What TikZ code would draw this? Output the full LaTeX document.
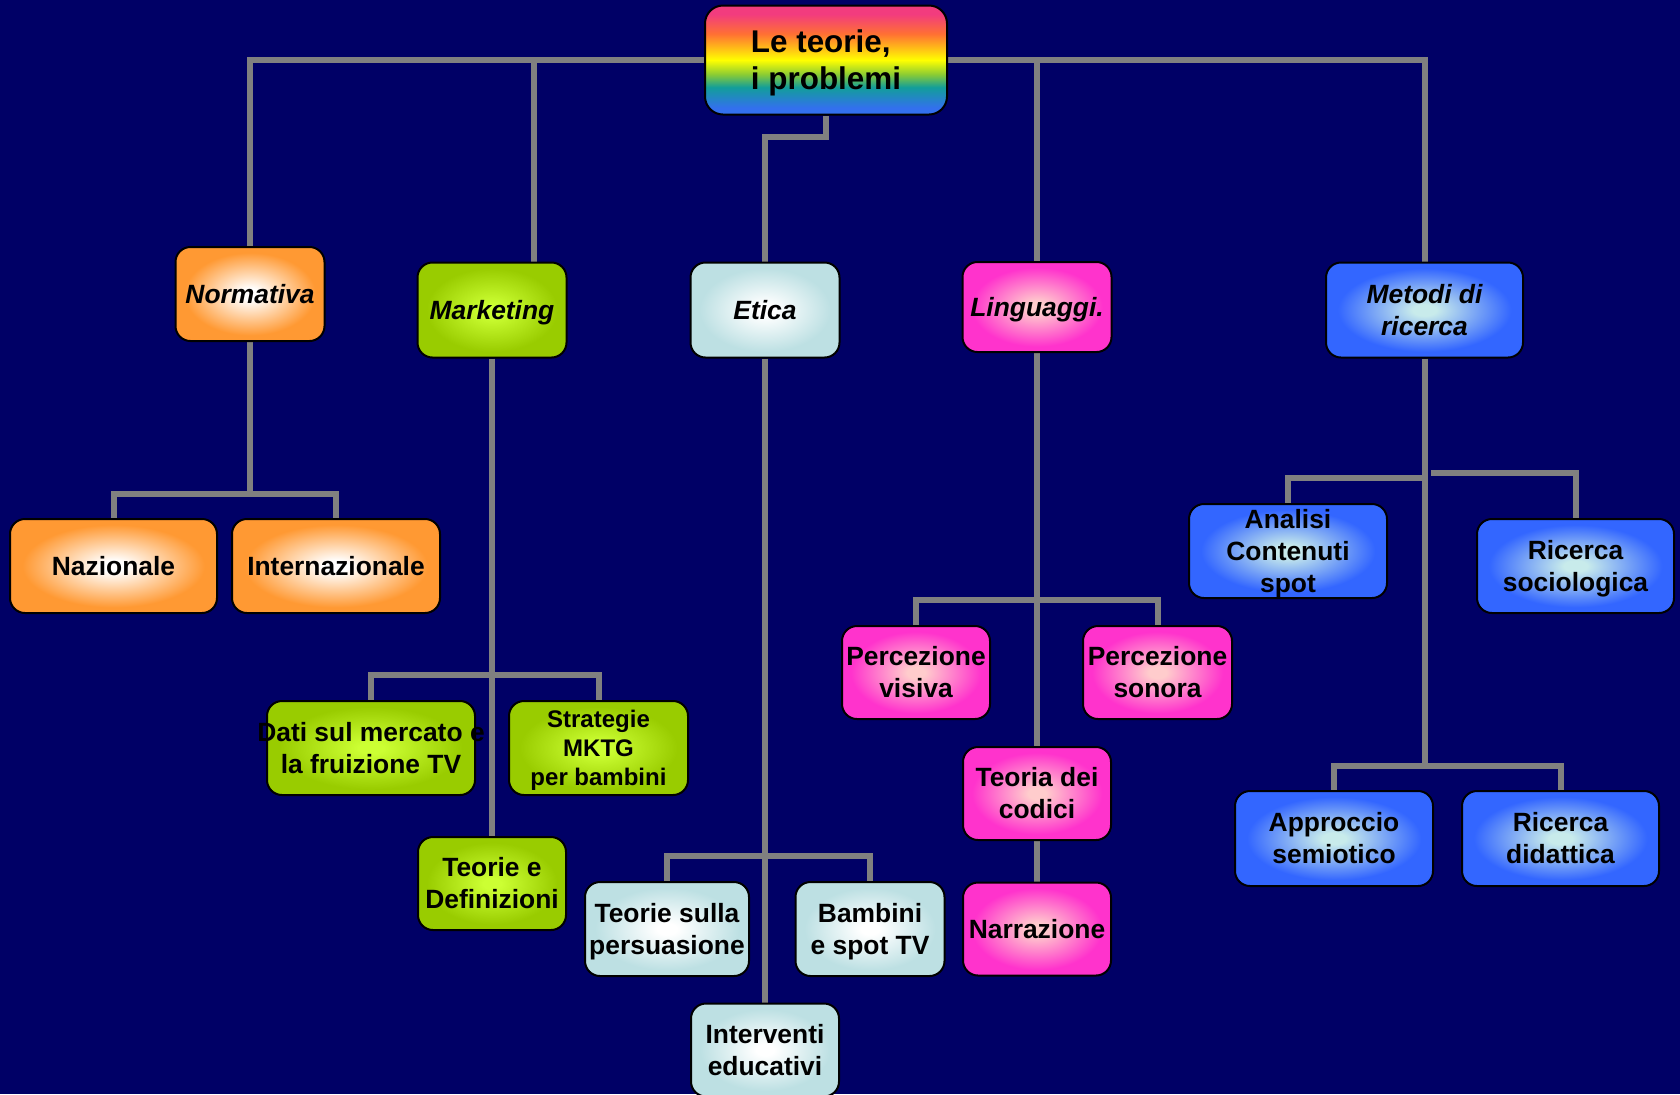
\documentclass[tikz,border=0pt]{standalone}
\usepackage{fontspec}
\setmainfont{Liberation Sans}
\usetikzlibrary{backgrounds}
\definecolor{tvnavy}{HTML}{000066}
\definecolor{tvline}{HTML}{808080}
\definecolor{tvorange}{HTML}{FF9933}
\definecolor{tvgreen}{HTML}{99CC00}
\definecolor{tvlime}{HTML}{CCFF33}
\definecolor{tvice}{HTML}{BDE0E3}
\definecolor{tvpink}{HTML}{FF33CC}
\definecolor{tvblush}{HTML}{FFCCCC}
\definecolor{tvblue}{HTML}{3366FF}
\definecolor{tvmist}{HTML}{C8EBEB}
\definecolor{rbpink}{HTML}{F23C7E}
\definecolor{rborange}{HTML}{FF7033}
\definecolor{rbyellow}{HTML}{FFFF00}
\definecolor{rbgreen}{HTML}{8CCC33}
\definecolor{rbteal}{HTML}{129E9A}
\definecolor{rbblue}{HTML}{3370EE}
\colorlet{glowin}{white}
\colorlet{glowout}{tvorange}
\pgfdeclareradialshading[glowin,glowout]{glow}{\pgfpoint{0bp}{0bp}}{color(0bp)=(glowin); color(3bp)=(glowin); color(22bp)=(glowout); color(50bp)=(glowout)}
\pgfdeclareverticalshading{rainbow}{100bp}{color(0bp)=(rbblue); color(28bp)=(rbblue); color(37.5bp)=(rbteal); color(43.5bp)=(rbgreen); color(50bp)=(rbyellow); color(62bp)=(rborange); color(71bp)=(rbpink); color(100bp)=(rbpink)}
\newcommand{\flatline}[1]{\raisebox{0pt}[\height][0pt]{#1}}
\tikzset{
  box/.style={draw=black,line width=1pt,rounded corners=7.5pt,shade,shading=glow,minimum width=74.5pt,minimum height=47pt,inner sep=1pt,align=center,text=black,font=\fontsize{13.2}{16}\selectfont\bfseries},
  topic/.style={box,font=\fontsize{13.2}{16}\selectfont\bfseries\itshape},
  rootbox/.style={draw=black,line width=1pt,rounded corners=9pt,shade,shading=rainbow,minimum width=121pt,minimum height=54.5pt,inner sep=1pt,align=left,text=black,font=\fontsize{15.7}{18.5}\selectfont\bfseries},
  normcol/.style={/utils/exec={\colorlet{glowin}{white}\colorlet{glowout}{tvorange}}},
  mktcol/.style={/utils/exec={\colorlet{glowin}{tvlime}\colorlet{glowout}{tvgreen}}},
  ethcol/.style={/utils/exec={\colorlet{glowin}{white}\colorlet{glowout}{tvice}}},
  langcol/.style={/utils/exec={\colorlet{glowin}{tvblush}\colorlet{glowout}{tvpink}}},
  methcol/.style={/utils/exec={\colorlet{glowin}{tvmist}\colorlet{glowout}{tvblue}}},
  link/.style={draw=tvline,line width=3pt},
}
\begin{document}
\begin{tikzpicture}[x=0.5pt,y=-0.5pt]
  \useasboundingbox (0,0) rectangle (1680,1094);
  \node[rootbox] (root) at (826,60) {Le teorie,\\\flatline{i problemi}};
  \node[topic,normcol] (nor) at (250,294) {Normativa};
  \node[topic,mktcol,minimum height=47.5pt] (mkt) at (492,310) {\flatline{Marketing}};
  \node[topic,ethcol,minimum height=47.5pt] (eti) at (765,310) {Etica};
  \node[topic,langcol,minimum height=45pt] (lin) at (1037,307) {\flatline{Linguaggi.}};
  \node[topic,methcol,minimum width=98.5pt,minimum height=47.5pt] (met) at (1424.5,310) {Metodi di\\ricerca};
  \node[box,normcol,minimum width=103.5pt] (naz) at (113.5,566) {Nazionale};
  \node[box,normcol,minimum width=104pt] (inz) at (336,566) {Internazionale};
  \node[box,mktcol,minimum width=104pt,inner xsep=-6pt] (dati) at (371,748) {Dati sul mercato e\\la fruizione TV};
  \node[box,mktcol,minimum width=89.5pt,font=\fontsize{12}{14.5}\selectfont\bfseries] (str) at (598.5,748) {Strategie\\MKTG\\\flatline{per bambini}};
  \node[box,mktcol,minimum width=74pt,minimum height=46.5pt] (teo) at (492,883.5) {Teorie e\\Definizioni};
  \node[box,ethcol,minimum width=82pt] (tsp) at (667,929) {Teorie sulla\\\flatline{persuasione}};
  \node[box,ethcol] (bam) at (870,929) {Bambini\\\flatline{e spot TV}};
  \node[box,ethcol,minimum width=74pt,minimum height=46.5pt] (edu) at (765,1050) {Interventi\\educativi};
  \node[box,langcol,minimum width=74pt,minimum height=46.5pt] (pvis) at (916,672.5) {Percezione\\visiva};
  \node[box,langcol,minimum height=46.5pt] (pson) at (1157.5,672.5) {Percezione\\sonora};
  \node[box,langcol,minimum width=74pt,minimum height=46.5pt] (cod) at (1037,793.5) {Teoria dei\\codici};
  \node[box,langcol,minimum width=74pt,minimum height=46.5pt] (nar) at (1037,929) {Narrazione};
  \node[box,methcol,minimum width=99pt] (ana) at (1288,551) {Analisi\\Contenuti\\\flatline{spot}};
  \node[box,methcol,minimum width=98.5pt] (soc) at (1575.5,566) {Ricerca\\\flatline{sociologica}};
  \node[box,methcol,minimum width=99pt,minimum height=47.5pt] (app) at (1334,838.5) {Approccio\\semiotico};
  \node[box,methcol,minimum width=98.5pt,minimum height=47.5pt] (did) at (1560.5,838.5) {Ricerca\\didattica};
  \coordinate (socjoin) at (1431,473);
  \begin{scope}[on background layer]
    \fill[tvnavy] (0,0) rectangle (1680,1094);
    \draw[link] (root) -| (nor.north);
    \draw[link] (root) -| ([xshift=21pt]mkt.north);
    \draw[link] (root.south) -- ++(0,21) -| (eti.north);
    \draw[link] (root) -| (lin.north);
    \draw[link] (root) -| (met.north);
    \draw[link] (nor.south) |- ([yshift=12pt]naz.north) -- (naz.north);
    \draw[link] (nor.south) |- ([yshift=12pt]inz.north) -- (inz.north);
    \draw[link] (mkt.south) |- ([yshift=12.5pt]dati.north) -- (dati.north);
    \draw[link] (mkt.south) |- ([yshift=12.5pt]str.north) -- (str.north);
    \draw[link] (mkt.south) -- (teo.north);
    \draw[link] (eti.south) |- ([yshift=12.5pt]tsp.north) -- (tsp.north);
    \draw[link] (eti.south) |- ([yshift=12.5pt]bam.north) -- (bam.north);
    \draw[link] (eti.south) -- (edu.north);
    \draw[link] (lin.south) |- ([yshift=12.5pt]pvis.north) -- (pvis.north);
    \draw[link] (lin.south) |- ([yshift=12.5pt]pson.north) -- (pson.north);
    \draw[link] (lin.south) -- (cod.north);
    \draw[link] (cod.south) -- (nar.north);
    \draw[link] (met.south) |- ([yshift=12.5pt]ana.north) -- (ana.north);
    \draw[link] (socjoin) -| (soc.north);
    \draw[link] (met.south) |- ([yshift=12pt]app.north) -- (app.north);
    \draw[link] (met.south) |- ([yshift=12pt]did.north) -- (did.north);
  \end{scope}
\end{tikzpicture}
\end{document}
